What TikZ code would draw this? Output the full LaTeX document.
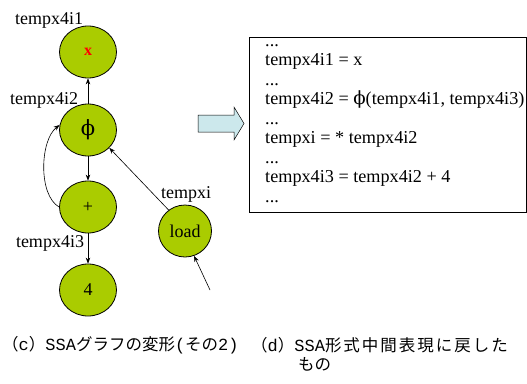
\documentclass[tikz,border=0pt]{standalone}
\usepackage{fontspec}
\setmainfont{Liberation Serif}
\newfontfamily\jpfont{Noto Sans CJK JP}
\newfontfamily\jpwide{Noto Sans CJK JP}[LetterSpace=12]
\newfontfamily\latinmono{Liberation Mono}
\newfontfamily\greekfont{DejaVu Serif}
\usetikzlibrary{arrows.meta,shapes.geometric}
\definecolor{nodegreen}{RGB}{170,204,0}
\definecolor{arrowcyan}{RGB}{204,232,236}
\newcommand{\phisym}{{\greekfont ϕ}}
\newcommand{\capmono}[1]{{\latinmono\fontsize{17}{19}\selectfont #1}}
\tikzset{
  vnode/.style={ellipse, draw=black, line width=0.8pt, fill=nodegreen,
    minimum width=57pt, minimum height=52pt, inner sep=0pt,
    font=\fontsize{18}{20}\selectfont},
  vlabel/.style={font=\fontsize{18}{20}\selectfont, inner sep=0pt},
  edge/.style={-{Stealth[length=6pt,width=4.5pt]}, line width=0.6pt},
  codeline/.style={anchor=base west, inner sep=0pt, font=\fontsize{18.2}{19.5}\selectfont},
  caption/.style={anchor=west, inner sep=0pt, font=\fontsize{16.5}{19}\selectfont}
}
\begin{document}
\begin{tikzpicture}[x=1pt,y=-1pt]
\useasboundingbox (0,0) rectangle (527,383);

% graph nodes
\node[vnode] (nx) at (88,52) {\textcolor{red}{\fontsize{16}{18}\selectfont\bfseries x}};
\node[vnode] (nphi) at (88,130) {\fontsize{21}{24}\selectfont\phisym};
\node[vnode] (nplus) at (88,207) {+};
\node[vnode] (nfour) at (88,290) {4};
\node[vnode, minimum width=53pt, minimum height=52pt] (nload) at (185,231) {load};

% variable names
\node[vlabel] (lx) at (49,20) {tempx4i1};
\node[vlabel] (lphi) at (44,100) {tempx4i2};
\node[vlabel] (lplus) at (50,243) {tempx4i3};
\node[vlabel] (lload) at (186,194) {tempxi};

% edges
\draw[edge] (nphi.north) -- (nx.south);
\draw[edge] (nphi.south) -- (nplus.north);
\draw[edge] (nplus.south) -- (nfour.north);
\draw[edge] (nplus.west) .. controls (38,195) and (40,140) .. (nphi.170);
\draw[edge] (nload.128) -- (nphi.-40);
\coordinate (feed) at (210,290);
\draw[edge] (feed) -- (nload.-70);

% block arrow between the graph and the code
\draw[line width=0.5pt, fill=arrowcyan]
  (198,115) -- (234,115) -- (234,107) -- (244,123.5)
  -- (234,140) -- (234,132) -- (198,132) -- cycle;

% resulting code, one baseline every 19.5pt
\node[draw=black, line width=0.7pt, minimum width=277pt, minimum height=175pt,
  inner sep=0pt, anchor=north west] (code) at (248.5,37) {};
\node[codeline] (c1) at (265,46) {...};
\node[codeline] (c2) at (265,65.5) {tempx4i1 = x};
\node[codeline] (c3) at (265,85) {...};
\node[codeline] (c4) at (265,104.5) {tempx4i2 = \smash{\phisym}(tempx4i1, tempx4i3)};
\node[codeline] (c5) at (265,124) {...};
\node[codeline] (c6) at (265,143.5) {tempxi = * tempx4i2};
\node[codeline] (c7) at (265,163) {...};
\node[codeline] (c8) at (265,182.5) {tempx4i3 = tempx4i2 + 4};
\node[codeline] (c9) at (265,202) {...};

% captions
\node[caption] (capc) at (2,345)
  {{\jpfont （}\capmono{c}{\jpfont ）}\capmono{SSA}{\jpfont グラフの変形}\capmono{(}{\jpfont その}\capmono{2)}};
\node[caption] (capd) at (251,345)
  {{\jpfont （}\capmono{d}{\jpfont ）}\capmono{SSA}{\jpwide 形式中間表現に戻した}};
\node[caption] (capd2) at (298,364) {\jpfont もの};
\end{tikzpicture}
\end{document}
